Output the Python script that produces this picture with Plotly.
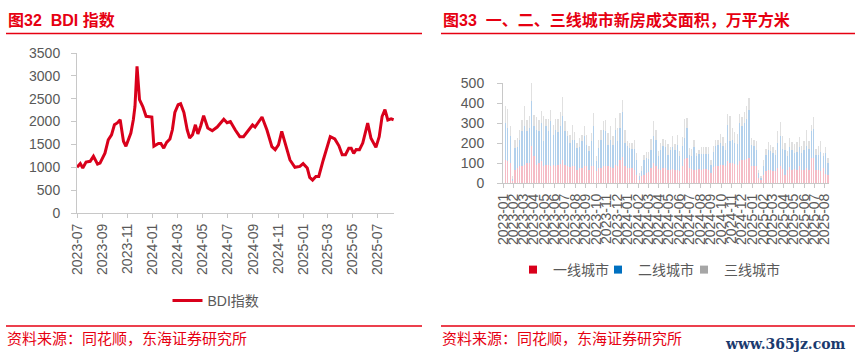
import plotly.graph_objects as go
import pandas as pd

W, H = 855, 360

# ---------------- BDI data (left) ----------------
bdi_dates = ["2023-07-01","2023-07-09","2023-07-15","2023-07-23","2023-08-02","2023-08-10","2023-08-20","2023-08-26",
             "2023-09-07","2023-09-15","2023-09-23","2023-09-30","2023-10-07","2023-10-14","2023-10-22","2023-10-28",
             "2023-11-09","2023-11-15","2023-11-19","2023-11-24","2023-11-30","2023-12-08","2023-12-16","2023-12-30",
             "2024-01-04","2024-01-15","2024-01-21","2024-01-28","2024-02-04","2024-02-12","2024-02-18","2024-02-24",
             "2024-03-03","2024-03-09","2024-03-17","2024-03-25","2024-03-31","2024-04-07","2024-04-14","2024-04-20",
             "2024-04-27","2024-05-04","2024-05-14","2024-05-25","2024-06-06","2024-06-22","2024-06-30","2024-07-08",
             "2024-07-20","2024-07-31","2024-08-09","2024-08-21","2024-08-31","2024-09-06","2024-09-17","2024-09-23",
             "2024-10-05","2024-10-17","2024-10-25","2024-11-02","2024-11-10","2024-11-18","2024-11-30","2024-12-12",
             "2024-12-24","2025-01-01","2025-01-11","2025-01-17","2025-01-24","2025-02-01","2025-02-08","2025-02-19",
             "2025-02-28","2025-03-08","2025-03-19","2025-03-29","2025-04-06","2025-04-14","2025-04-22","2025-04-28",
             "2025-05-04","2025-05-10","2025-05-18","2025-05-26","2025-06-07","2025-06-15","2025-06-27","2025-07-05",
             "2025-07-12","2025-07-19","2025-07-26","2025-08-03","2025-08-09"]
bdi_values = [1000,1080,985,1115,1130,1240,1070,1090,
              1310,1600,1710,1930,1970,2040,1570,1460,
              1750,2040,2330,3210,2480,2330,2115,2100,
              1460,1520,1520,1420,1545,1620,1820,2200,
              2370,2390,2200,1820,1640,1710,1930,1730,
              1910,2130,1860,1800,1880,2050,1975,2000,
              1815,1670,1670,1800,1925,1880,2035,2100,
              1815,1450,1385,1490,1785,1530,1160,1000,
              1020,1080,985,780,720,800,800,1160,
              1415,1670,1620,1470,1275,1275,1415,1415,
              1305,1390,1385,1530,1965,1635,1435,1670,
              2110,2260,2035,2060,2040]
bdi_yticks = [0, 500, 1000, 1500, 2000, 2500, 3000, 3500]

# ---------------- Weekly new-home transaction area (right) ----------------
first_week = "2023-01-08"
tier1 = [117,108,100,12,67,75,83,87,92,100,
         100,183,133,92,100,108,83,92,92,87,
         92,87,92,97,117,92,87,80,83,83,
         67,75,75,83,83,67,83,83,58,75,
         75,83,87,83,80,75,92,83,117,128,
         83,75,75,75,67,42,13,33,
         42,50,53,75,100,87,70,67,75,75,
         67,67,70,67,67,58,83,120,125,75,
         70,67,67,70,67,70,70,67,50,80,
         87,87,92,92,87,108,100,100,97,92,
         108,117,117,120,125,87,83,83,25,13,
         42,58,67,63,58,58,75,83,70,42,
         67,80,67,70,67,83,67,67,75,67,
         125,125,67,67,58,75,47,42]
tier2 = [183,167,137,10,108,105,134,171,191,158,
         175,225,150,175,158,192,125,191,166,221,
         150,180,161,186,216,166,146,120,134,134,
         108,105,133,150,109,91,125,200,50,100,
         142,184,171,109,137,117,175,125,158,225,
         117,112,100,95,103,75,20,25,
         75,75,67,88,137,130,63,100,108,105,
         75,98,110,100,125,75,104,105,150,67,
         63,113,66,77,80,77,77,80,42,73,
         100,105,108,91,80,184,108,117,103,105,
         192,166,183,200,242,105,100,84,25,12,
         45,84,100,95,92,84,125,150,100,125,
         66,100,100,80,86,97,83,96,112,103,
         133,145,75,75,95,58,103,58]
tier3 = [83,95,50,11,42,45,46,59,100,59,
         58,100,59,63,59,58,129,37,62,59,
         50,53,67,70,97,50,25,42,75,36,
         25,45,34,50,50,25,42,67,25,42,
         50,45,59,58,66,41,58,67,75,64,
         67,21,25,30,47,33,17,25,
         25,28,33,57,71,46,25,33,37,33,
         55,15,57,28,50,25,43,95,50,33,
         37,37,17,20,33,33,33,33,25,34,
         30,25,47,47,33,55,125,58,53,50,
         47,47,53,63,58,33,34,41,17,8,
         30,28,36,34,30,25,58,70,67,33,
         25,45,36,47,50,50,33,45,80,38,
         34,60,28,45,55,17,30,25]
tier_names = ["一线城市", "二线城市", "三线城市"]
area_yticks = [0, 100, 200, 300, 400, 500]

weeks = pd.date_range(first_week, periods=len(tier1), freq="7D")

# ---------------- styles ----------------
RED = "#e60012"
LINE_RED = "#d9001b"
AXIS = "#c8c8c8"
TXT = "#595959"
FONT = "Liberation Sans, Arial, Noto Sans CJK SC, sans-serif"
bar_fill = ["#f5bcc6", "#b2d0ec", "#e0e0e0"]
legend_fill = ["#d9001b", "#0070c0", "#a6a6a6"]
legend_ids = ["legend2", "legend3", "legend4"]
legend_square_px = [534, 619, 705]

def px_x(p):
    return p / W

def px_y(p):
    return 1 - p / H

fig = go.Figure()

fig.add_trace(go.Scatter(x=bdi_dates, y=bdi_values, mode="lines", name="BDI指数",
                         line=dict(color=LINE_RED, width=3), xaxis="x", yaxis="y",
                         legend="legend"))

for vals, nm, col in zip([tier1, tier2, tier3], tier_names, bar_fill):
    fig.add_trace(go.Bar(x=weeks, y=vals, name=nm, marker=dict(color=col, line=dict(width=0)),
                         width=1.0 * 86400000, xaxis="x2", yaxis="y2", showlegend=False))
for nm, col, lg in zip(tier_names, legend_fill, legend_ids):
    fig.add_trace(go.Scatter(x=[None], y=[None], mode="markers", name=nm,
                             marker=dict(symbol="square", size=8, color=col),
                             xaxis="x2", yaxis="y2", legend=lg))

tickfont = dict(family=FONT, size=14, color=TXT)
common = dict(showline=True, linecolor=AXIS, linewidth=1, ticks="outside",
              tickcolor=AXIS, showgrid=False, zeroline=False, automargin=False,
              tickfont=tickfont)
legfont = dict(family=FONT, size=14, color=TXT)

fig.update_layout(
    width=W, height=H, margin=dict(l=0, r=0, t=0, b=0, pad=0, autoexpand=False),
    paper_bgcolor="white", plot_bgcolor="white",
    font=dict(family=FONT, color=TXT),
    barmode="stack",
    xaxis=dict(domain=[px_x(77), px_x(394)], anchor="y", type="date",
               range=["2023-07-01", "2025-08-10"], tick0="2023-07-01", dtick="M2",
               tickformat="%Y-%m", tickangle=-90, ticklen=4, **common),
    yaxis=dict(domain=[px_y(213), px_y(53)], anchor="x", range=[0, 3500],
               tickmode="array", tickvals=bdi_yticks, ticklen=5,
               ticklabelstandoff=8, **common),
    xaxis2=dict(domain=[px_x(503), px_x(829)], anchor="y2", type="date",
                range=["2023-01-01", "2025-08-13"], tick0="2023-01-01", dtick="M1",
                tickformat="%Y-%m", tickangle=-90, ticklen=4, **common),
    yaxis2=dict(domain=[px_y(183), px_y(83)], anchor="x2", range=[0, 500],
                tickmode="array", tickvals=area_yticks, ticklen=5,
                ticklabelstandoff=10, **common),
    legend=dict(orientation="h", x=px_x(216), xanchor="center", y=px_y(301), yanchor="middle",
                font=legfont, bgcolor="rgba(0,0,0,0)"),
    bargap=0.5,
)
for lg, sx in zip(legend_ids, legend_square_px):
    fig.update_layout({lg: dict(orientation="h", x=px_x(sx - 21), xanchor="left",
                                y=px_y(270), yanchor="middle", font=legfont,
                                bgcolor="rgba(0,0,0,0)", itemwidth=30)})

annos = [
    dict(text="<b>图32  BDI 指数</b>", x=px_x(6), y=px_y(20), xanchor="left", yanchor="middle",
         font=dict(family=FONT, size=16, color=RED)),
    dict(text="<b>图33  一、二、三线城市新房成交面积，万平方米</b>", x=px_x(441), y=px_y(20),
         xanchor="left", yanchor="middle", font=dict(family=FONT, size=16, color=RED)),
    dict(text="资料来源：同花顺，东海证券研究所", x=px_x(5), y=px_y(338), xanchor="left", yanchor="middle",
         font=dict(family=FONT, size=15, color=RED)),
    dict(text="资料来源：同花顺，东海证券研究所", x=px_x(440), y=px_y(338), xanchor="left", yanchor="middle",
         font=dict(family=FONT, size=15, color=RED)),
    dict(text="<b>www.365jz.com</b>", x=px_x(848), y=px_y(344), xanchor="right", yanchor="middle",
         font=dict(family="DejaVu Serif, Liberation Serif, serif", size=14, color="#1b3a6e")),
]
for a in annos:
    a.update(xref="paper", yref="paper", showarrow=False)
fig.update_layout(annotations=annos)

shapes = []
for (x0, x1) in [(6, 422), (441, 855)]:
    for yy in (33.5, 326):
        shapes.append(dict(type="line", xref="paper", yref="paper", x0=px_x(x0), x1=px_x(x1),
                           y0=px_y(yy), y1=px_y(yy), line=dict(color=RED, width=1.3)))
fig.update_layout(shapes=shapes)

fig.write_html("out.html", config={"displayModeBar": False},
               post_script="document.body.style.margin='0';document.body.style.overflow='hidden';")
